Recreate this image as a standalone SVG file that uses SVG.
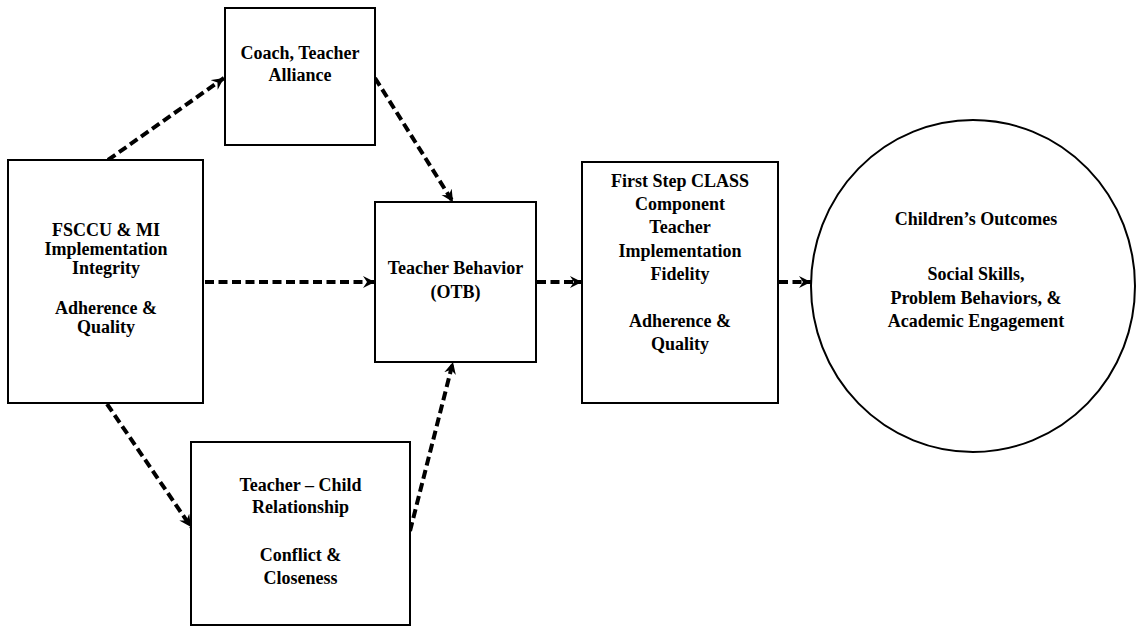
<svg xmlns="http://www.w3.org/2000/svg" width="1137" height="626" viewBox="0 0 1137 626">
<style>
.box{fill:#fff;stroke:#000;stroke-width:2}
.t{font-family:"Liberation Serif","Times New Roman",serif;font-size:18px;font-weight:bold;fill:#000;text-anchor:middle}
.c{fill:none;stroke:#000;stroke-width:4;stroke-dasharray:9 4.5}
</style>
<defs>
<marker id="ah" markerUnits="userSpaceOnUse" markerWidth="14" markerHeight="14" refX="12" refY="6" orient="auto">
<path d="M0,0 L12,6 L0,12 L4,6 z" fill="#000"/>
</marker>
</defs>
<rect width="1137" height="626" fill="#fff"/>
<g id="connectors">
<line class="c" x1="108" y1="160" x2="224" y2="78" marker-end="url(#ah)"/>
<line class="c" x1="375" y1="78" x2="453" y2="202" marker-end="url(#ah)"/>
<line class="c" x1="205" y1="282" x2="375" y2="282" marker-end="url(#ah)"/>
<line class="c" x1="107" y1="404" x2="191" y2="527" marker-end="url(#ah)"/>
<line class="c" x1="410" y1="531" x2="453" y2="362" marker-end="url(#ah)"/>
<line class="c" x1="537" y1="282" x2="582" y2="282" marker-end="url(#ah)"/>
<line class="c" x1="779" y1="282" x2="811" y2="282" marker-end="url(#ah)"/>
</g>
<g id="fsccu">
<rect class="box" x="8" y="160" width="195" height="243"/>
<text class="t" x="106" y="236">FSCCU &amp; MI</text>
<text class="t" x="106" y="255">Implementation</text>
<text class="t" x="106" y="274">Integrity</text>
<text class="t" x="106" y="314">Adherence &amp;</text>
<text class="t" x="106" y="333">Quality</text>
</g>
<g id="coach">
<rect class="box" x="225" y="8" width="150" height="137"/>
<text class="t" x="300" y="59">Coach, Teacher</text>
<text class="t" x="300" y="81">Alliance</text>
</g>
<g id="behavior">
<rect class="box" x="375" y="202" width="161" height="160"/>
<text class="t" x="455.5" y="274">Teacher Behavior</text>
<text class="t" x="455.5" y="298">(OTB)</text>
</g>
<g id="relationship">
<rect class="box" x="191" y="442" width="219" height="183"/>
<text class="t" x="300.5" y="491">Teacher – Child</text>
<text class="t" x="300.5" y="513">Relationship</text>
<text class="t" x="300.5" y="561">Conflict &amp;</text>
<text class="t" x="300.5" y="584">Closeness</text>
</g>
<g id="firststep">
<rect class="box" x="582" y="162" width="196" height="241"/>
<text class="t" x="680" y="187">First Step CLASS</text>
<text class="t" x="680" y="210">Component</text>
<text class="t" x="680" y="233">Teacher</text>
<text class="t" x="680" y="257">Implementation</text>
<text class="t" x="680" y="280">Fidelity</text>
<text class="t" x="680" y="327">Adherence &amp;</text>
<text class="t" x="680" y="350">Quality</text>
</g>
<g id="outcomes">
<ellipse class="box" cx="973" cy="286" rx="162" ry="166"/>
<text class="t" x="976" y="225">Children’s Outcomes</text>
<text class="t" x="976" y="280">Social Skills,</text>
<text class="t" x="976" y="304">Problem Behaviors, &amp;</text>
<text class="t" x="976" y="327">Academic Engagement</text>
</g>
</svg>
